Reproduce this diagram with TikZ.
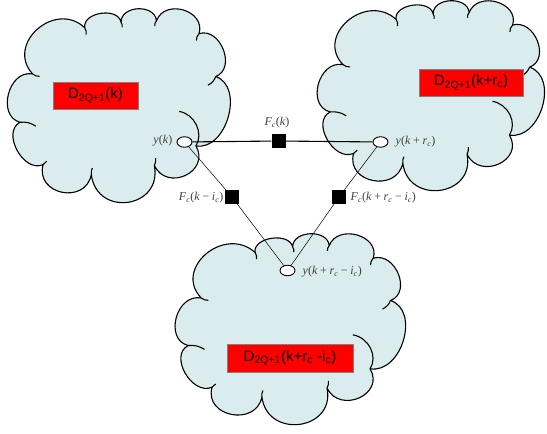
\documentclass[tikz,border=0pt]{standalone}
\usepackage{fontspec}
\setmainfont{Liberation Serif}
\newfontfamily\arialf{Liberation Sans}
\usetikzlibrary{shapes.geometric}
\definecolor{cloudfill}{RGB}{218,236,238}
\definecolor{labgray}{RGB}{64,64,64}
\newcommand\lsub[1]{\textsubscript{\textit{#1}}}
\newcommand\opsp{\hspace{0.22em}}
\newcommand\pptcloud{%
  \path[cloudline, fill=cloudfill]
    (0.085,0.335) to[bend left=88, looseness=1.5] (0.335,0.10)
    to[bend left=88, looseness=1.15] (0.51,0.072)
    to[bend left=88, looseness=1.3] (0.68,0.065)
    to[bend left=88, looseness=1.45] (0.885,0.13)
    to[bend left=88, looseness=1.2] (0.965,0.348)
    to[bend left=85, looseness=1.05] (0.87,0.70)
    to[bend left=92, looseness=1.7] (0.67,0.80)
    to[bend left=92, looseness=1.85] (0.367,0.845)
    to[bend left=92, looseness=1.7] (0.135,0.795)
    to[bend left=88, looseness=1.1] (0.024,0.58)
    to[bend left=88, looseness=1.2] (0.085,0.335) -- cycle;
  \draw[cloudline] (0.085,0.335) to[bend right=20] (0.118,0.347);
  \draw[cloudline] (0.335,0.10) to[bend left=20] (0.342,0.135);
  \draw[cloudline] (0.51,0.072) to[bend left=20] (0.515,0.098);
  \draw[cloudline] (0.68,0.065) to[bend right=20] (0.672,0.092);
  \draw[cloudline] (0.885,0.13) to[bend right=20] (0.872,0.165);
  \draw[cloudline] (0.965,0.348) to[bend left=20] (0.928,0.392);
  \draw[cloudline] (0.79,0.525) to[bend left=55] (0.87,0.70);
  \draw[cloudline] (0.67,0.80) to[bend right=15] (0.676,0.762);
  \draw[cloudline] (0.367,0.845) to[bend left=15] (0.372,0.812);
  \draw[cloudline] (0.135,0.795) to[bend left=15] (0.152,0.778);
  \draw[cloudline] (0.024,0.58) to[bend left=20] (0.10,0.60);
}
\begin{document}
\begin{tikzpicture}[x=1pt,y=-1pt,
  cloudline/.style={draw=black, line width=1.1pt, line join=round},
  redbox/.style={draw=gray, line width=0.6pt, fill=red, inner sep=0pt,
    font=\arialf\fontsize{15}{17}\selectfont, text=black},
  ynode/.style={ellipse, draw=black, fill=white, line width=0.9pt,
    minimum width=15pt, minimum height=10.5pt, inner sep=0pt},
  fnode/.style={rectangle, fill=black, minimum size=14pt, inner sep=0pt},
  lab/.style={font=\fontsize{12}{13}\selectfont, text=labgray, inner sep=0.5pt},
  thickline/.style={line width=1.1pt},
  thinline/.style={line width=0.5pt}
]
\useasboundingbox (0,0) rectangle (547,434);
% clouds
\begin{scope}[shift={(15,8)}, xscale=208, yscale=197]\pptcloud\end{scope}
\begin{scope}[shift={(325,0)}, xscale=212, yscale=193]\pptcloud\end{scope}
\begin{scope}[shift={(183,233)}, xscale=215, yscale=194]\pptcloud\end{scope}
% red boxes
\node[redbox, minimum width=85pt, minimum height=27pt] (d1) at (95.5,95.5) {D\textsubscript{2Q+1}(k)};
\node[redbox, minimum width=104pt, minimum height=27pt] (d2) at (471,82.5) {D\textsubscript{2Q+1}(k+r\textsubscript{c})};
\node[redbox, minimum width=126pt, minimum height=28pt] (d3) at (290,358) {D\textsubscript{2Q+1}(k+r\textsubscript{c} -i\textsubscript{c})};
% variable nodes
\node[ynode] (y1) at (184.5,142) {};
\node[ynode] (y2) at (380.5,142) {};
\node[ynode] (y3) at (287.5,270.5) {};
% factor nodes
\node[fnode] (f1) at (278.5,141) {};
\node[fnode] (f2) at (232,197) {};
\node[fnode] (f3) at (339,197) {};
% connectors
\draw[thickline] (y1) -- (f1);
\draw[thickline] (f1) -- (y2);
\draw[thinline] (y1) -- (f2);
\draw[thinline] (f2) -- (y3);
\draw[thinline] (y2) -- (f3);
\draw[thinline] (f3) -- (y3);
% labels
\node[lab, anchor=east] (ly1) at (173,141) {\textit{y}(\textit{k})};
\node[lab, anchor=west] (ly2) at (395,142) {\textit{y}(\textit{k}\opsp+\opsp\textit{r}\lsub{c})};
\node[lab, anchor=west] (ly3) at (302,272) {\textit{y}(\textit{k}\opsp+\opsp\textit{r}\lsub{c}\opsp−\opsp\textit{i}\lsub{c})};
\node[lab] (lf1) at (277,123) {\textit{F}\lsub{c}(\textit{k})};
\node[lab, anchor=east] (lf2) at (224,198) {\textit{F}\lsub{c}(\textit{k}\opsp−\opsp\textit{i}\lsub{c})};
\node[lab, anchor=west] (lf3) at (350,198) {\textit{F}\lsub{c}(\textit{k}\opsp+\opsp\textit{r}\lsub{c}\opsp−\opsp\textit{i}\lsub{c})};
\end{tikzpicture}
\end{document}
